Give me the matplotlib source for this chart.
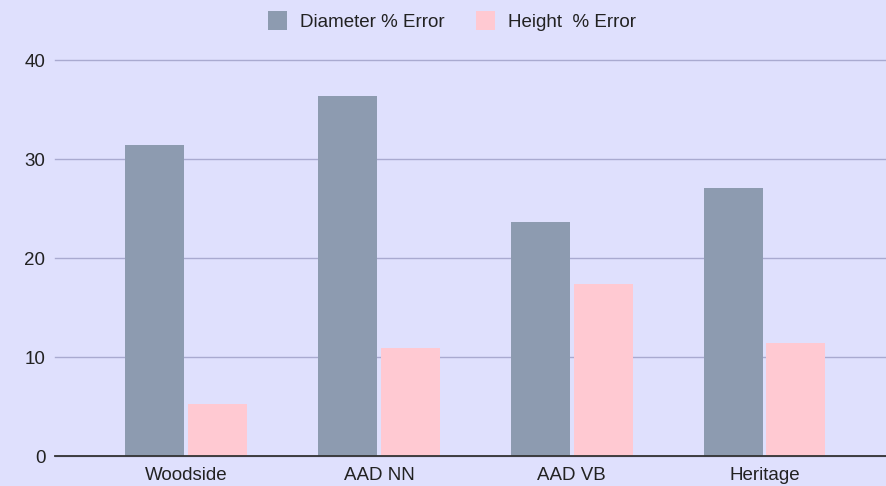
import matplotlib
matplotlib.use("Agg")
import matplotlib.pyplot as plt
import numpy as np

categories = ["Woodside", "AAD NN", "AAD VB", "Heritage"]
diameter_err = [31.4, 36.4, 23.6, 27.1]
height_err = [5.25, 10.9, 17.4, 11.4]
series_names = ["Diameter % Error", "Height  % Error"]
yticks = [0, 10, 20, 30, 40]

plt.rcParams['font.family'] = ['Liberation Sans', 'DejaVu Sans']

bg = "#dfe0fd"
c_d = "#8d9bb0"
c_h = "#ffc9d2"

fig = plt.figure(figsize=(8.86, 4.86), dpi=100, facecolor=bg)
ax = fig.add_axes([55/886, 30/486, 831/886, 396/486], facecolor=bg)

x = np.arange(len(categories))
w = 0.306
off = 0.163
ax.bar(x - off, diameter_err, w, color=c_d, label=series_names[0], zorder=3)
ax.bar(x + off, height_err, w, color=c_h, label=series_names[1], zorder=3)

ax.set_xlim(-0.68, 3.63)
ax.set_ylim(0, 40)
ax.set_yticks(yticks)
ax.set_xticks(x)
ax.set_xticklabels(categories)
for s in ["top", "right", "left"]:
    ax.spines[s].set_visible(False)
ax.spines["bottom"].set_color("#333333")
ax.spines["bottom"].set_linewidth(1.3)
ax.spines["bottom"].set_zorder(4)
ax.tick_params(axis="both", length=0, labelsize=13.5, colors="#222222")
ax.tick_params(axis="y", pad=7)
ax.tick_params(axis="x", pad=8)
ax.yaxis.grid(True, color="#a9aad0", linewidth=1.0, zorder=0)
for gl in ax.get_ygridlines():
    gl.set_clip_on(False)

leg = fig.legend(loc="center", bbox_to_anchor=(452/886, 1 - 21/486), ncol=2,
                 frameon=False, fontsize=13.5, handlelength=1.0, handleheight=1.15,
                 columnspacing=1.65, handletextpad=0.7)
for t in leg.get_texts():
    t.set_color("#222222")

fig.savefig("out.png", dpi=100, facecolor=bg)
